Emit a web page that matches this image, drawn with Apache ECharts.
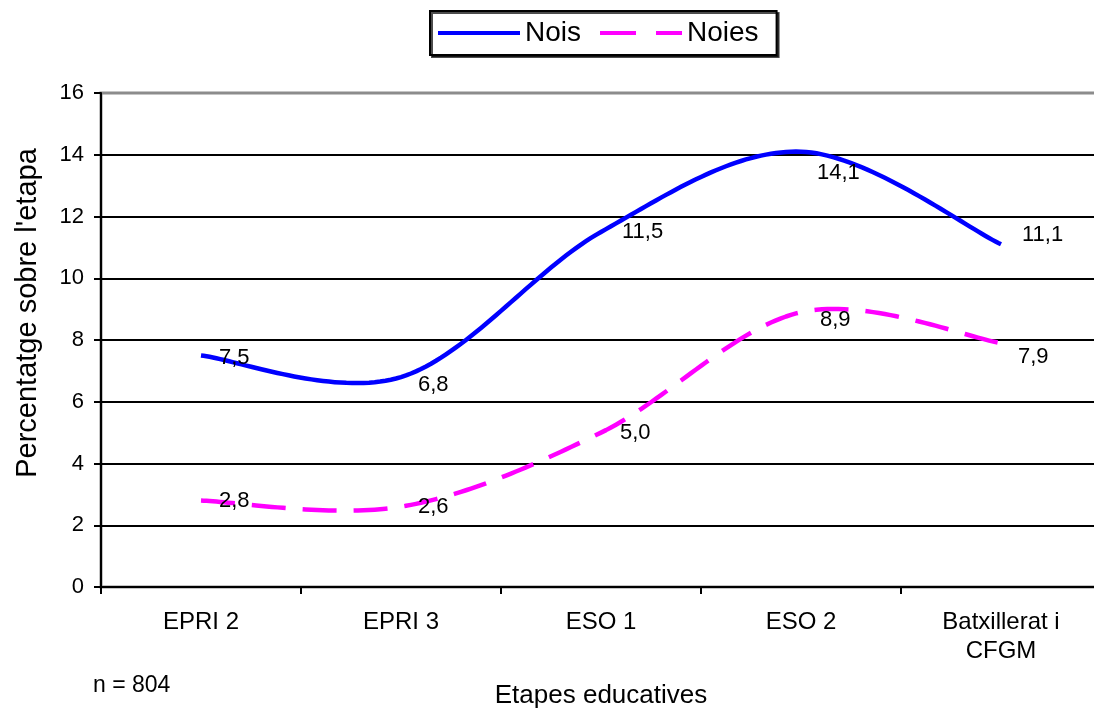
<!DOCTYPE html>
<html>
<head>
<meta charset="utf-8">
<script src="https://cdn.jsdelivr.net/npm/echarts@6/dist/echarts.min.js"></script>
<style>html,body{margin:0;padding:0;background:#fff}#c{width:1094px;height:711px}</style>
</head>
<body>
<div id="c"></div>
<script>
var categories = ['EPRI 2', 'EPRI 3', 'ESO 1', 'ESO 2', 'Batxillerat i\nCFGM'];
var nois = [7.5, 6.8, 11.5, 14.1, 11.1];
var noies = [2.8, 2.6, 5.0, 8.9, 7.9];
var yTicks = [0, 2, 4, 6, 8, 10, 12, 14, 16];

var FONT = 'Liberation Sans, Arial, sans-serif';
var chart = echarts.init(document.getElementById('c'), null, {renderer: 'canvas'});

// label placement (style only): index -> [dx, dy] from the point
var noisLabelPos = [[18, 2], [17, 8], [21, 0], [16, 21], [21, -9]];
var noiesLabelPos = [[18, 0], [17, 0], [19, 0], [19, 8], [17, 14]];

// Excel-like smoothing (Catmull-Rom -> cubic Bezier, tension 1/6), sampled
function smoothPoints(pts) {
  var out = [pts[0]];
  var n = pts.length;
  for (var i = 0; i < n - 1; i++) {
    var p0 = pts[Math.max(i - 1, 0)], p1 = pts[i], p2 = pts[i + 1], p3 = pts[Math.min(i + 2, n - 1)];
    var c1 = [p1[0] + (p2[0] - p0[0]) / 6, p1[1] + (p2[1] - p0[1]) / 6];
    var c2 = [p2[0] - (p3[0] - p1[0]) / 6, p2[1] - (p3[1] - p1[1]) / 6];
    var S = 40;
    for (var k = 1; k <= S; k++) {
      var t = k / S, u = 1 - t;
      out.push([
        u * u * u * p1[0] + 3 * u * u * t * c1[0] + 3 * u * t * t * c2[0] + t * t * t * p2[0],
        u * u * u * p1[1] + 3 * u * u * t * c1[1] + 3 * u * t * t * c2[1] + t * t * t * p2[1]
      ]);
    }
  }
  return out;
}

function makeSeries(name, vals, color, dash, labelPos, z) {
  return {
    name: name, type: 'custom', z: z,
    data: vals.map(function (v, i) { return [i, v]; }),
    encode: {x: 0, y: 1},
    itemStyle: {color: color},
    renderItem: function (params, api) {
      var i = params.dataIndex;
      var children = [];
      if (i === 0) {
        var pts = vals.map(function (v, j) { return api.coord([j, v]); });
        children.push({
          type: 'polyline', z2: 1,
          shape: {points: smoothPoints(pts)},
          style: {stroke: color, lineWidth: 4.5, fill: null, lineDash: dash, lineCap: 'butt', lineJoin: 'round'}
        });
      }
      var p = api.coord([i, vals[i]]);
      children.push({
        type: 'text', z2: 2,
        style: {
          text: vals[i].toFixed(1).replace('.', ','),
          x: p[0] + labelPos[i][0], y: p[1] + labelPos[i][1],
          align: 'left', verticalAlign: 'middle',
          font: '22px ' + FONT, fill: '#000'
        }
      });
      return {type: 'group', children: children};
    }
  };
}

var splitColors = yTicks.map(function (t, i) { return i === yTicks.length - 1 ? 'rgba(0,0,0,0)' : '#000'; });

chart.setOption({
  animation: false,
  backgroundColor: '#fff',
  textStyle: {fontFamily: FONT},
  legend: {
    top: 11, left: 430,
    data: [
      {name: 'Nois', icon: 'path://M0,0H82V4H0Z', itemStyle: {color: '#0000ff'}},
      {name: 'Noies', icon: 'path://M0,0H36V4H0Z M56,0H82V4H56Z', itemStyle: {color: '#ff00ff'}}
    ],
    itemWidth: 82, itemHeight: 4, itemGap: 19,
    padding: [8, 18, 8, 8],
    borderColor: '#000', borderWidth: 2,
    shadowColor: 'rgba(0,0,0,0.7)', shadowOffsetX: 2, shadowOffsetY: 2, shadowBlur: 0,
    backgroundColor: '#fff',
    selectedMode: false,
    textStyle: {fontSize: 28, fontFamily: FONT, color: '#000', lineHeight: 28}
  },
  grid: {left: 101, top: 93, width: 1000, height: 494, outerBoundsMode: 'none', containLabel: false,
         show: true, borderColor: '#8c8c8c', borderWidth: 3, backgroundColor: 'transparent'},
  xAxis: {
    type: 'category', data: categories, boundaryGap: true,
    name: 'Etapes educatives', nameLocation: 'middle', nameGap: 96,
    nameTextStyle: {fontSize: 26, fontFamily: FONT, color: '#000'},
    axisLine: {lineStyle: {color: '#000', width: 2}},
    axisTick: {show: true, interval: 0, length: 7, lineStyle: {color: '#000', width: 2}},
    axisLabel: {interval: 0, fontSize: 24, fontFamily: FONT, color: '#000', margin: 21, lineHeight: 29}
  },
  yAxis: {
    type: 'value', min: 0, max: 16, interval: 2,
    axisLine: {show: true, lineStyle: {color: '#000', width: 2}},
    axisTick: {show: true, length: 7, lineStyle: {color: '#000', width: 2}},
    axisLabel: {fontSize: 22, fontFamily: FONT, color: '#000', margin: 17},
    splitLine: {show: true, lineStyle: {color: splitColors, width: 2}}
  },
  graphic: [{
    type: 'text', left: 93, top: 674,
    style: {text: 'n = 804', fontSize: 23, fontFamily: FONT, fill: '#000'}
  }, {
    type: 'text', x: 28, y: 313, rotation: Math.PI / 2,
    style: {text: "Percentatge sobre l'etapa", font: '29px ' + FONT, fill: '#000', align: 'center', verticalAlign: 'middle'}
  }],
  series: [
    makeSeries('Noies', noies, '#ff00ff', [34, 17], noiesLabelPos, 2),
    makeSeries('Nois', nois, '#0000ff', null, noisLabelPos, 3)
  ]
});
</script>
</body>
</html>
